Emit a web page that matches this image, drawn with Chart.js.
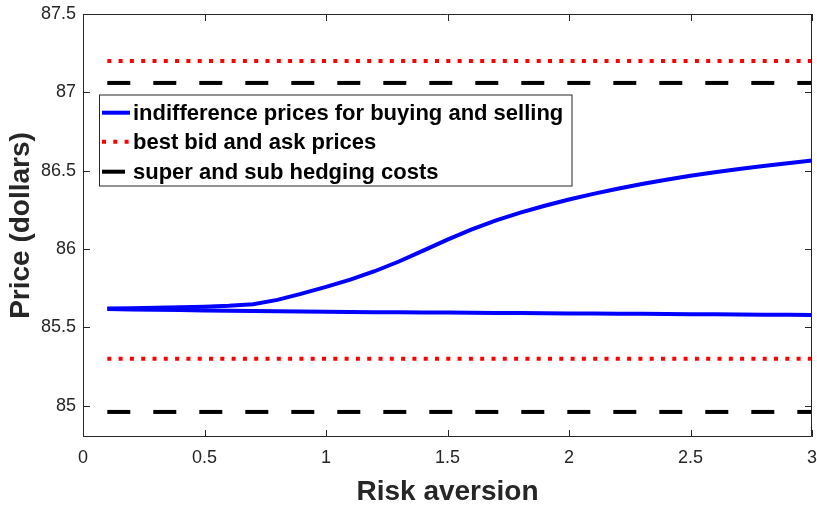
<!DOCTYPE html>
<html>
<head>
<meta charset="utf-8">
<script src="https://cdn.jsdelivr.net/npm/chart.js@4/dist/chart.umd.min.js"></script>
<style>
  html, body { margin: 0; padding: 0; background: #fff; }
  #wrap { width: 817px; height: 506px; }
</style>
</head>
<body>
<div id="wrap"><canvas id="priceChart"></canvas></div>
<script>
// risk aversion grid
const riskAversion = [0.1, 0.2, 0.3, 0.4, 0.5, 0.6, 0.7, 0.8, 0.9, 1.0,
                      1.1, 1.2, 1.3, 1.4, 1.5, 1.6, 1.7, 1.8, 1.9, 2.0,
                      2.1, 2.2, 2.3, 2.4, 2.5, 2.6, 2.7, 2.8, 2.9, 3.0];
// indifference prices
const sellingPrice = [85.620, 85.622, 85.625, 85.628, 85.632, 85.638, 85.648, 85.675, 85.715, 85.758,
                      85.805, 85.858, 85.920, 85.990, 86.060, 86.125, 86.183, 86.232, 86.276, 86.316,
                      86.352, 86.385, 86.415, 86.442, 86.467, 86.490, 86.511, 86.530, 86.548, 86.565];
const buyingPrice = [85.617, 85.614, 85.612, 85.610, 85.608, 85.606, 85.604, 85.602, 85.601, 85.599,
                     85.598, 85.597, 85.596, 85.595, 85.594, 85.593, 85.592, 85.591, 85.590, 85.589,
                     85.588, 85.587, 85.586, 85.585, 85.584, 85.583, 85.582, 85.581, 85.580, 85.579];
// flat bounds, drawn over the same range
const boundRange = [0.1, 3];
const bidAsk = [85.3, 87.2];
const hedgeCosts = [84.96, 87.06];

const xTicks = [0, 0.5, 1, 1.5, 2, 2.5, 3];
const yTicks = [85, 85.5, 86, 86.5, 87, 87.5];

const legendLabels = ['indifference prices for buying and selling', 'best bid and ask prices', 'super and sub hedging costs'];

const BLUE = '#0000ff', RED = '#ff0000', BLACK = '#000000', AXIS = '#262626';
const DOTS = [4, 7.3], DASH = [23, 23];

function curve(ys) {
    return riskAversion.map((x, i) => ({ x: x, y: ys[i] }));
}
function flat(v) {
    return boundRange.map(x => ({ x: x, y: v }));
}

function lineSet(data, color, dash) {
    return {
        data: data,
        borderColor: color,
        borderWidth: 4,
        borderDash: dash || [],
        borderCapStyle: 'butt',
        pointRadius: 0,
        tension: 0,
        fill: false
    };
}

const datasets = [
    lineSet(curve(sellingPrice), BLUE),
    lineSet(curve(buyingPrice), BLUE),
    lineSet(flat(bidAsk[1]), RED, DOTS),
    lineSet(flat(bidAsk[0]), RED, DOTS),
    lineSet(flat(hedgeCosts[1]), BLACK, DASH),
    lineSet(flat(hedgeCosts[0]), BLACK, DASH)
];

// matlab style box with inward ticks
const boxPlugin = {
    id: 'box',
    afterDatasetsDraw(chart) {
        const ctx = chart.ctx;
        const a = chart.chartArea;
        const xs = chart.scales.x, ys = chart.scales.y;
        const len = 7;
        ctx.save();
        ctx.strokeStyle = AXIS;
        ctx.lineWidth = 1;
        ctx.beginPath();
        ctx.rect(a.left + 0.5, a.top + 0.5, a.right - a.left - 1, a.bottom - a.top - 1);
        xTicks.forEach(v => {
            const px = Math.round(xs.getPixelForValue(v)) + 0.5;
            ctx.moveTo(px, a.bottom); ctx.lineTo(px, a.bottom - len);
            ctx.moveTo(px, a.top); ctx.lineTo(px, a.top + len);
        });
        yTicks.forEach(v => {
            const py = Math.round(ys.getPixelForValue(v)) + 0.5;
            ctx.moveTo(a.left, py); ctx.lineTo(a.left + len, py);
            ctx.moveTo(a.right, py); ctx.lineTo(a.right - len, py);
        });
        ctx.stroke();
        ctx.restore();
    }
};

const legendPlugin = {
    id: 'boxLegend',
    afterDraw(chart) {
        const ctx = chart.ctx;
        const left = 99, top = 94.5, w = 472.5, h = 91;
        const rows = [112.7, 141.7, 171.7];
        const styles = [[BLUE, []], [RED, DOTS], [BLACK, DASH]];
        ctx.save();
        ctx.fillStyle = '#fff';
        ctx.fillRect(left, top, w, h);
        ctx.strokeStyle = AXIS;
        ctx.lineWidth = 1;
        ctx.strokeRect(left + 0.5, top + 0.5, w, h);
        ctx.font = 'bold 22px "Liberation Sans", Arial, sans-serif';
        ctx.textBaseline = 'middle';
        legendLabels.forEach((label, i) => {
            ctx.beginPath();
            ctx.strokeStyle = styles[i][0];
            ctx.lineWidth = 4;
            ctx.lineCap = 'butt';
            ctx.setLineDash(styles[i][1]);
            ctx.moveTo(102, rows[i]);
            ctx.lineTo(i === 2 ? 125 : 130, rows[i]);
            ctx.stroke();
            ctx.setLineDash([]);
            ctx.fillStyle = BLACK;
            ctx.fillText(label, 133, rows[i] + 1);
        });
        ctx.restore();
    }
};

new Chart(document.getElementById('priceChart'), {
    type: 'line',
    data: { datasets: datasets },
    options: {
        responsive: true,
        maintainAspectRatio: false,
        animation: false,
        layout: { padding: { left: 0, right: 5, top: 14, bottom: 0 } },
        plugins: { legend: { display: false }, tooltip: { enabled: false } },
        scales: {
            x: {
                type: 'linear',
                min: 0, max: 3,
                afterBuildTicks: s => { s.ticks = xTicks.map(v => ({ value: v })); },
                afterFit: s => { s.height = 69; s.paddingLeft = 0; s.paddingRight = 0; },
                grid: { display: false, drawTicks: false },
                border: { display: false },
                ticks: {
                    padding: 10,
                    color: AXIS,
                    font: { family: '"Liberation Sans", Arial, sans-serif', size: 18 },
                    callback: v => String(v),
                    maxRotation: 0
                },
                title: {
                    display: true,
                    text: 'Risk aversion',
                    color: AXIS,
                    padding: 0,
                    font: { family: '"Liberation Sans", Arial, sans-serif', size: 28, weight: 'bold', lineHeight: 1 }
                }
            },
            y: {
                min: 84.8, max: 87.5,
                afterBuildTicks: s => { s.ticks = yTicks.map(v => ({ value: v })); },
                afterFit: s => { s.width = 83; s.paddingTop = 0; s.paddingBottom = 0; },
                grid: { display: false, drawTicks: false },
                border: { display: false },
                ticks: {
                    padding: 7,
                    color: AXIS,
                    font: { family: '"Liberation Sans", Arial, sans-serif', size: 18 },
                    callback: v => String(v)
                },
                title: {
                    display: true,
                    text: 'Price (dollars)',
                    color: AXIS,
                    padding: { top: 7, bottom: 0 },
                    font: { family: '"Liberation Sans", Arial, sans-serif', size: 28, weight: 'bold', lineHeight: 1 }
                }
            }
        }
    },
    plugins: [boxPlugin, legendPlugin]
});
</script>
</body>
</html>
